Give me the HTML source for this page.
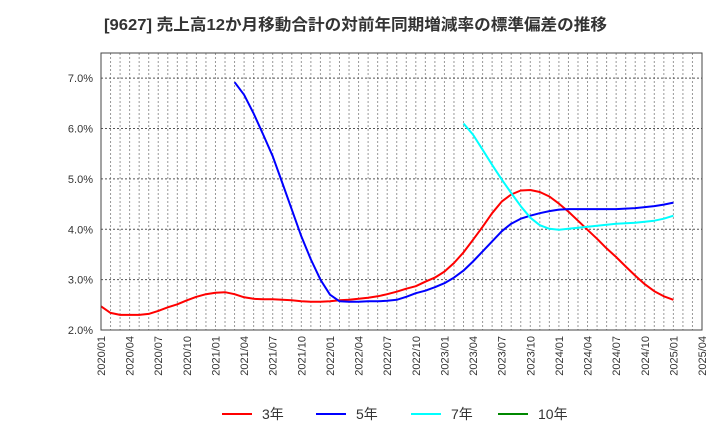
<!DOCTYPE html>
<html><head><meta charset="utf-8">
<style>
html,body{margin:0;padding:0;background:#fff;}
svg{display:block;font-family:"Liberation Sans","Noto Sans CJK JP",sans-serif;}
</style></head>
<body>
<svg id="chart" width="720" height="440" viewBox="0 0 720 440">
<text x="104" y="30" font-size="16" font-weight="bold" fill="#333" textLength="503" lengthAdjust="spacingAndGlyphs">[9627]  売上高12か月移動合計の対前年同期増減率の標準偏差の推移</text>
<g id="grid"></g>
<g id="yaxis"></g>
<g id="xaxis"></g>
<g id="series"></g>
<rect x="101" y="53" width="601" height="277" fill="none" stroke="#444" stroke-width="1"/>
<g>
  <g><line x1="222" y1="414" x2="252" y2="414" stroke="#f00" stroke-width="2"/><text x="262" y="419" font-size="14" fill="#333">3年</text></g>
  <g><line x1="316" y1="414" x2="346" y2="414" stroke="#00f" stroke-width="2"/><text x="356" y="419" font-size="14" fill="#333">5年</text></g>
  <g><line x1="411" y1="414" x2="441" y2="414" stroke="#0ff" stroke-width="2"/><text x="451" y="419" font-size="14" fill="#333">7年</text></g>
  <g><line x1="498" y1="414" x2="528" y2="414" stroke="#080" stroke-width="2"/><text x="538" y="419" font-size="14" fill="#333">10年</text></g>
</g>
</svg>
<script>
const yTicks = [2, 3, 4, 5, 6, 7];
const xTickLabels = ["2020/01","2020/04","2020/07","2020/10","2021/01","2021/04","2021/07","2021/10","2022/01","2022/04","2022/07","2022/10","2023/01","2023/04","2023/07","2023/10","2024/01","2024/04","2024/07","2024/10","2025/01","2025/04"];
const s3Start = 0;
const s3 = [2.47,2.34,2.30,2.30,2.30,2.32,2.38,2.45,2.51,2.59,2.66,2.71,2.74,2.75,2.71,2.65,2.62,2.61,2.61,2.60,2.59,2.57,2.56,2.56,2.57,2.59,2.60,2.62,2.64,2.67,2.71,2.76,2.82,2.87,2.96,3.04,3.16,3.33,3.54,3.79,4.05,4.32,4.55,4.69,4.77,4.78,4.74,4.65,4.51,4.35,4.17,3.99,3.81,3.62,3.45,3.26,3.08,2.91,2.77,2.67,2.60];
const s5Start = 14;
const s5 = [6.92,6.67,6.30,5.88,5.45,4.92,4.39,3.86,3.40,3.00,2.70,2.57,2.56,2.56,2.57,2.57,2.58,2.60,2.66,2.73,2.78,2.85,2.93,3.04,3.18,3.36,3.56,3.76,3.96,4.11,4.21,4.27,4.32,4.36,4.39,4.40,4.40,4.40,4.40,4.40,4.40,4.41,4.42,4.44,4.46,4.49,4.53];
const s7Start = 38;
const s7 = [6.10,5.88,5.58,5.28,4.99,4.72,4.46,4.23,4.08,4.01,3.99,4.01,4.03,4.05,4.07,4.09,4.11,4.12,4.13,4.15,4.17,4.21,4.27];

const X0=101, X1=702, Y0=330, Y1=53, YMIN=2, YMAX=7.5, NMONTHS=63;
const xs = m => X0 + (X1-X0)*m/NMONTHS;
const ys = v => Y0 - (Y0-Y1)*(v-YMIN)/(YMAX-YMIN);
const NS="http://www.w3.org/2000/svg";
function mk(tag, attrs, parent){const e=document.createElementNS(NS,tag);for(const k in attrs)e.setAttribute(k,attrs[k]);parent.appendChild(e);return e;}
const grid=document.getElementById('grid'), ya=document.getElementById('yaxis'), xa=document.getElementById('xaxis'), sg=document.getElementById('series');
for(let m=1;m<NMONTHS;m++){
  const l=mk('line',{x1:xs(m),x2:xs(m),y1:Y1,y2:Y0,stroke:'#999','stroke-width':1,'stroke-dasharray':'2,2'},grid);
  
  
}
yTicks.forEach(v=>{
  const y=ys(v);
  const l=mk('line',{x1:X0,x2:X1,y1:y,y2:y,stroke:'#555','stroke-width':1,'stroke-dasharray':'2,2'},grid);
  
  
  const t=mk('text',{x:93,y:y+4,'font-size':11,'text-anchor':'end',fill:'#333'},ya);
  t.textContent=v.toFixed(1)+'%';
  
  
});
xTickLabels.forEach((lab,i)=>{
  const x=xs(i*3);
  const t=mk('text',{x:0,y:0,'font-size':11,'text-anchor':'end',fill:'#333',transform:`translate(${x+4},336) rotate(-90)`},xa);
  t.textContent=lab;
  
  
});
function drawLine(vals,start,color,name){
  const pts=vals.map((v,i)=>xs(start+i).toFixed(1)+','+ys(v).toFixed(1)).join(' ');
  const p=mk('polyline',{points:pts,fill:'none',stroke:color,'stroke-width':2,'stroke-linejoin':'round'},sg);
  
  
}
drawLine(s3,s3Start,'#f00','line-3y');
drawLine(s5,s5Start,'#00f','line-5y');
drawLine(s7,s7Start,'#0ff','line-7y');
</script>
</body></html>
